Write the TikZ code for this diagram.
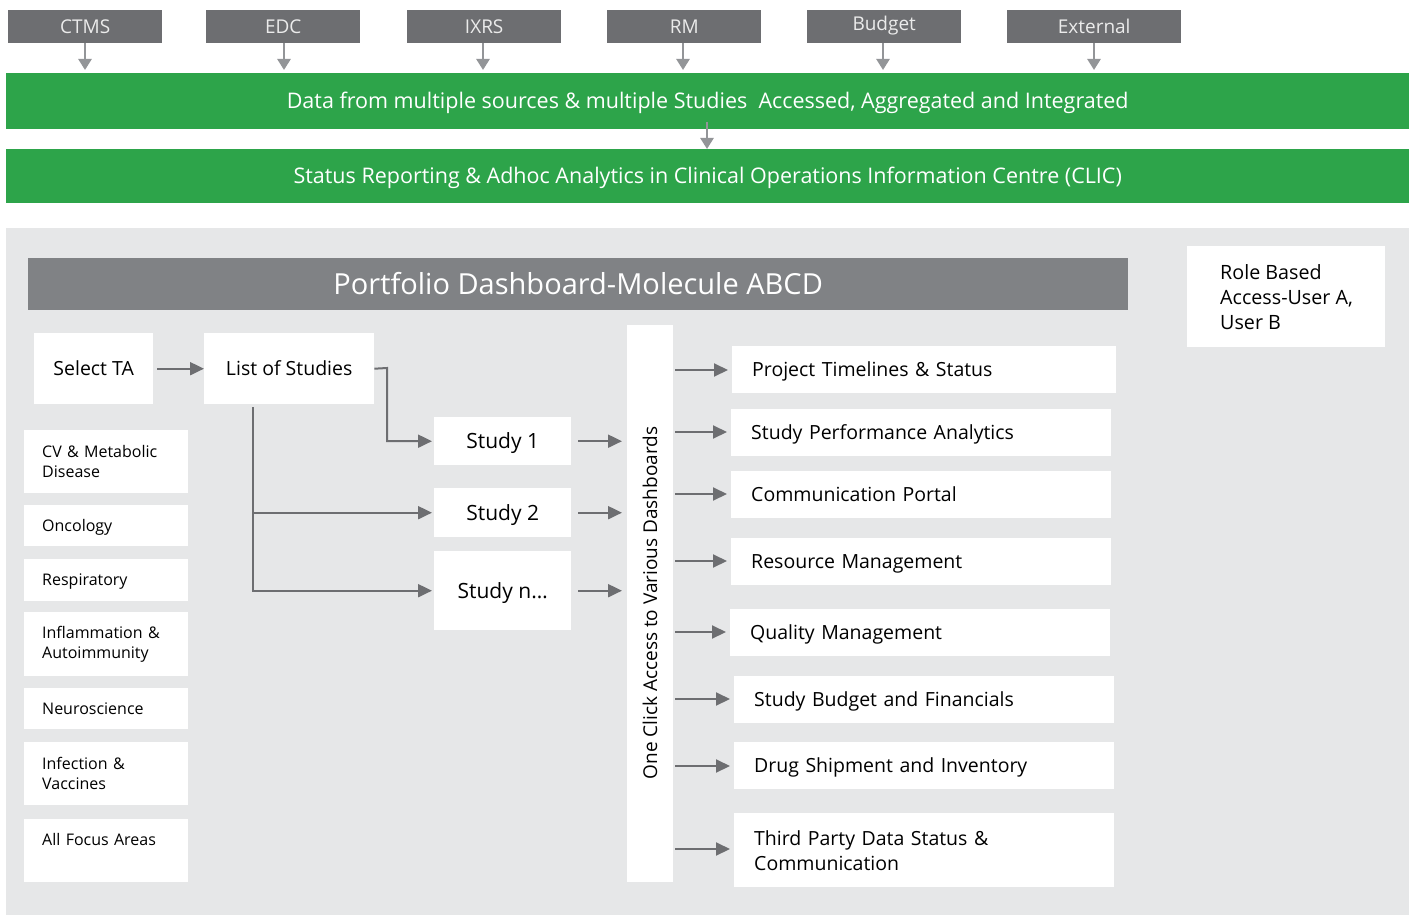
\documentclass[tikz,border=0pt]{standalone}
\usepackage{fontspec}
\setmainfont{Open Sans}
\usetikzlibrary{arrows.meta,positioning}
\definecolor{srcgray}{HTML}{6D6E71}
\definecolor{arrlight}{HTML}{939598}
\definecolor{arrdark}{HTML}{6D6E71}
\definecolor{bargreen}{HTML}{2DA44A}
\definecolor{panelgray}{HTML}{E6E7E8}
\definecolor{headgray}{HTML}{808285}
\tikzset{
  srcbox/.style={fill=srcgray, text=white!92!black, inner sep=0pt, anchor=north west, font=\fontsize{19}{22}\selectfont, text height=13.6pt, text depth=0pt},
  greenbar/.style={fill=bargreen, text=white, inner sep=0pt, anchor=north west, font=\fontsize{21.5}{26}\selectfont, text height=15.4pt, text depth=0pt},
  whitebox/.style={fill=white, inner sep=0pt, anchor=north west},
  tabox/.style={fill=white, anchor=north west, inner xsep=18pt, inner ysep=0pt, align=left, font=\fontsize{16}{20}\selectfont},
  taone/.style={tabox, text height=11.4pt, text depth=0pt},
  dashbox/.style={fill=white, anchor=north west, inner xsep=20pt, inner ysep=0pt, align=left, font=\fontsize{19.5}{25}\selectfont},
  dashone/.style={dashbox, text height=13.9pt, text depth=0pt},
  studybox/.style={whitebox, minimum width=137pt, font=\fontsize{21}{26}\selectfont, text height=15pt, text depth=0pt},
  toparrow/.style={draw=arrlight, line width=2.5pt, -{Triangle[length=11pt,width=13pt]}},
  inarrow/.style={draw=arrdark, line width=2pt, -{Triangle[length=14pt,width=13pt]}},
}
\begin{document}
\begin{tikzpicture}[x=1pt,y=-1pt]
\useasboundingbox (0,0) rectangle (1413,915);
\fill[white] (0,0) rectangle (1413,915);
% source boxes
\node[srcbox, minimum width=154pt, minimum height=33pt] (ctms) at (8,10) {CTMS};
\node[srcbox, minimum width=154pt, minimum height=33pt] (edc) at (206,10) {EDC};
\node[srcbox, minimum width=154pt, minimum height=33pt] (ixrs) at (407,10) {IXRS};
\node[srcbox, minimum width=154pt, minimum height=33pt] (rm) at (607,10) {RM};
\node[srcbox, minimum width=154pt, minimum height=33pt, text depth=5pt] (budget) at (807,10) {Budget};
\node[srcbox, minimum width=174pt, minimum height=33pt, text height=14.6pt] (ext) at (1007,10) {External};
% green bars
\node[greenbar, minimum width=1403pt, minimum height=56pt] (data) at (6,73) {Data from multiple sources \& multiple Studies\ \ Accessed, Aggregated and Integrated};
\node[greenbar, minimum width=1403pt, minimum height=54pt] (clic) at (6,149) {Status Reporting \& Adhoc Analytics in Clinical Operations Information Centre (CLIC)};
% top arrows
\foreach \n/\x in {ctms/85,edc/284,ixrs/483,rm/683,budget/883,ext/1094}{
  \draw[toparrow, shorten >=3pt] (\n.south -| \x,0) -- (\x,73);
}
\coordinate (dstart) at (707,122);
\draw[toparrow] (dstart) -- (dstart |- clic.north);
% panel
\fill[panelgray] (6,228) rectangle (1409,915);
\node[fill=headgray, text=white, inner sep=0pt, anchor=north west, minimum width=1100pt, minimum height=52pt, font=\fontsize{29}{34}\selectfont, text height=20.7pt, text depth=0pt] (head) at (28,258) {Portfolio Dashboard-Molecule ABCD};
% role box
\node[whitebox, minimum width=198pt, minimum height=101pt] (rolebg) at (1187,246) {};
\node[anchor=west, inner sep=0pt, align=left, font=\fontsize{19.7}{25}\selectfont] (role) at (1220,297) {Role Based\\Access-User A,\\User B};
% select TA / list
\node[whitebox, minimum width=119pt, minimum height=71pt, font=\fontsize{19.5}{25}\selectfont, text height=13.9pt, text depth=0pt] (sel) at (34,333) {Select TA};
\node[whitebox, minimum width=170pt, minimum height=71pt, font=\fontsize{19.5}{25}\selectfont, text height=13.9pt, text depth=0pt] (list) at (204,333) {List of Studies};
\draw[inarrow, shorten <=4pt] (sel.east) -- (list.west);
% studies
\node[studybox, minimum height=48pt] (s1) at (434,417) {Study 1};
\node[studybox, minimum height=49pt] (s2) at (434,488) {Study 2};
\node[studybox, minimum height=79pt] (sn) at (434,551) {Study n\ldots};
\coordinate (bend) at (387,368);
\draw[inarrow, shorten >=2pt] (list.east) -- (bend) |- (s1.west);
\coordinate (trunk) at (253,407);
\draw[draw=arrdark, line width=2pt] (trunk) -- (253,590.5);
\draw[inarrow, shorten >=2pt] (trunk) |- (s2.west);
\draw[inarrow, shorten >=2pt] (trunk) |- (sn.west);
% vertical bar
\node[whitebox, minimum width=46pt, minimum height=557pt] (bar) at (627,325) {};
\node[rotate=90, inner sep=0pt, font=\fontsize{19}{24}\selectfont] (bartext) at (650,603) {One Click Access to Various Dashboards};
\foreach \s in {s1,s2,sn}{
  \draw[inarrow, shorten <=7pt, shorten >=5pt] (\s.east) -- (\s.east -| bar.west);
}
% TA boxes
\node[tabox, text width=128pt, minimum height=63pt] (cv) at (24,430) {CV \& Metabolic\\Disease};
\node[taone, text width=128pt, minimum height=41pt] (onc) at (24,505) {Oncology};
\node[taone, text width=128pt, minimum height=42pt] (resp) at (24,559) {Respiratory};
\node[tabox, text width=128pt, minimum height=64pt] (infl) at (24,612) {Inflammation \&\\Autoimmunity};
\node[taone, text width=128pt, minimum height=41pt] (neuro) at (24,688) {Neuroscience};
\node[tabox, text width=128pt, minimum height=63pt] (inf) at (24,742) {Infection \&\\Vaccines};
\node[taone, text width=128pt, minimum height=63pt, text depth=20.9pt] (all) at (24,819) {All Focus Areas};
% dashboards
\node[dashone, text width=344pt, minimum height=47pt] (d1) at (732,346) {Project Timelines \& Status};
\node[dashone, text width=340pt, minimum height=47pt] (d2) at (731,409) {Study Performance Analytics};
\node[dashone, text width=340pt, minimum height=47pt] (d3) at (731,471) {Communication Portal};
\node[dashone, text width=340pt, minimum height=47pt] (d4) at (731,538) {Resource Management};
\node[dashone, text width=340pt, minimum height=47pt] (d5) at (730,609) {Quality Management};
\node[dashone, text width=340pt, minimum height=47pt] (d6) at (734,676) {Study Budget and Financials};
\node[dashone, text width=340pt, minimum height=47pt] (d7) at (734,742) {Drug Shipment and Inventory};
\node[dashbox, text width=340pt, minimum height=74pt] (d8) at (734,813) {Third Party Data Status \&\\Communication};
\foreach \d/\y in {d1/370,d2/432,d3/494,d4/561,d5/632,d6/699,d7/766,d8/849}{
  \draw[inarrow, shorten <=2pt, shorten >=4pt] (bar.east |- 0,\y) -- (\d.west |- 0,\y);
}
\end{tikzpicture}
\end{document}
